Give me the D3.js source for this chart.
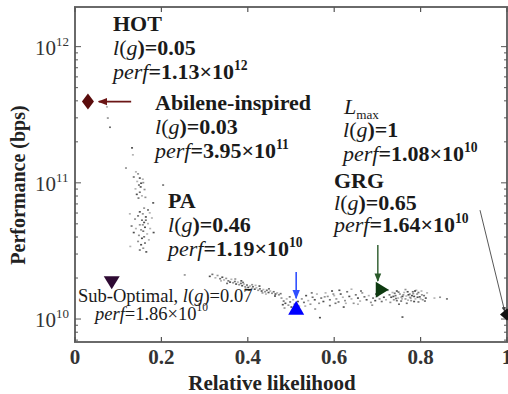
<!DOCTYPE html>
<html>
<head>
<meta charset="utf-8">
<script src="https://cdn.jsdelivr.net/npm/d3@7"></script>
<style>
  body { margin: 0; background: #fff; }
  svg { display: block; }
</style>
</head>
<body>
<svg id="chart" width="508" height="394" font-family="'Liberation Serif', 'Times New Roman', Times, serif"></svg>
<script>
// axis ticks (performance in units of 1e10 bps)
const xTicks = [0, 0.2, 0.4, 0.6, 0.8, 1];
const xTickLabels = ["0", "0.2", "0.4", "0.6", "0.8", "1"];
const yTicks = [1, 10, 100];
const yTickExps = ["10", "11", "12"];

// random-graph cloud, [likelihood, perf / 1e10]
const cloud = [
  [0.074,36],[0.076,29.8],[0.081,25.5],[0.132,18.0],[0.134,16.0],[0.118,12.8],[0.204,9.6],[0.181,7.1],
  [0.141,12.0],[0.146,11.6],[0.136,11.0],[0.150,10.8],[0.144,10.2],[0.158,10.0],[0.148,9.6],[0.152,9.3],
  [0.140,9.0],[0.161,8.9],[0.150,8.5],[0.143,8.2],[0.155,8.0],[0.163,7.8],[0.147,7.7],[0.153,9.9],[0.157,10.6],
  [0.160,6.5],[0.169,6.3],[0.150,6.1],[0.173,6.0],[0.157,5.9],[0.146,5.7],[0.164,5.6],[0.178,5.5],[0.139,5.4],
  [0.155,5.3],[0.160,5.1],[0.169,5.0],[0.150,4.9],[0.131,4.8],[0.162,4.7],[0.174,4.6],[0.153,4.5],[0.158,4.4],
  [0.136,4.3],[0.167,4.2],[0.148,4.1],[0.160,4.0],[0.155,3.9],[0.171,3.8],[0.146,3.7],[0.162,3.6],[0.153,3.5],
  [0.128,3.4],[0.158,3.3],[0.150,3.2],[0.165,3.1],[0.141,4.6],[0.157,4.9],[0.164,5.3],[0.182,4.3],[0.127,5.9],
  [0.254,2.10],[0.318,2.12],[0.312,2.05],[0.325,2.00],[0.330,2.08],[0.336,1.97],[0.341,2.02],[0.345,1.93],
  [0.350,1.98],[0.355,1.90],[0.359,1.86],[0.362,1.95],[0.366,1.84],[0.370,1.88],[0.373,1.80],[0.377,1.86],
  [0.380,1.78],[0.384,1.82],[0.387,1.75],[0.391,1.80],[0.394,1.72],[0.398,1.77],[0.401,1.70],[0.405,1.74],
  [0.409,1.67],[0.412,1.72],[0.416,1.65],[0.420,1.69],[0.424,1.62],[0.428,1.66],[0.432,1.60],[0.436,1.64],
  [0.440,1.58],[0.444,1.62],[0.448,1.56],[0.452,1.60],[0.456,1.54],[0.460,1.58],[0.464,1.52],[0.468,1.55],
  [0.472,1.50],[0.476,1.53],[0.385,1.90],[0.395,1.68],[0.410,1.78],[0.352,1.82],[0.427,1.74],[0.442,1.52],
  [0.371,1.96],[0.389,1.85],[0.403,1.63],[0.418,1.76],[0.434,1.55],[0.449,1.66],[0.463,1.47],[0.338,1.90],
  [0.478,1.42],[0.483,1.35],[0.487,1.30],[0.490,1.40],[0.494,1.26],[0.498,1.33],[0.501,1.22],[0.505,1.38],
  [0.508,1.28],[0.512,1.18],[0.516,1.34],[0.519,1.24],[0.485,1.20],[0.497,1.45],[0.481,1.27],[0.503,1.15],
  [0.525,1.40],[0.530,1.32],[0.535,1.48],[0.540,1.36],[0.545,1.28],[0.550,1.44],[0.555,1.38],[0.560,1.52],
  [0.565,1.30],[0.570,1.42],[0.575,1.34],[0.580,1.55],[0.585,1.46],[0.590,1.38],[0.595,1.60],[0.600,1.48],
  [0.605,1.40],[0.610,1.33],[0.615,1.52],[0.620,1.44],[0.625,1.36],[0.630,1.58],[0.635,1.46],[0.640,1.40],
  [0.645,1.30],[0.650,1.50],[0.655,1.42],[0.660,1.35],[0.665,1.55],[0.670,1.45],[0.675,1.38],[0.680,1.48],
  [0.685,1.32],[0.690,1.42],[0.695,1.36],[0.700,1.46],[0.705,1.40],[0.710,1.34],[0.715,1.44],[0.720,1.38],
  [0.556,1.18],[0.590,1.25],[0.622,1.22],[0.655,1.28],[0.688,1.26],[0.548,1.55],[0.612,1.62],[0.640,1.65],
  [0.578,1.45],[0.603,1.30],[0.567,1.02],[0.533,1.24],[0.598,1.52],[0.662,1.60],[0.697,1.52],[0.627,1.30],
  [0.724,1.62],[0.728,1.50],[0.732,1.44],[0.735,1.56],[0.738,1.38],[0.742,1.48],[0.745,1.60],[0.748,1.42],
  [0.752,1.52],[0.755,1.35],[0.758,1.46],[0.762,1.56],[0.765,1.40],[0.768,1.30],[0.772,1.50],[0.775,1.44],
  [0.778,1.36],[0.782,1.58],[0.785,1.46],[0.788,1.40],[0.792,1.52],[0.795,1.33],[0.798,1.45],[0.802,1.60],
  [0.805,1.38],[0.808,1.48],[0.812,1.42],[0.815,1.55],[0.730,1.32],[0.750,1.28],[0.770,1.58],[0.790,1.62],
  [0.760,1.50],[0.740,1.54],[0.780,1.48],[0.800,1.40],[0.765,1.64],[0.745,1.36],[0.785,1.34],[0.755,1.44],
  [0.775,1.52],[0.795,1.56],[0.737,1.46],[0.757,1.40],[0.777,1.42],[0.810,1.35],[0.758,1.03],
  [0.767,1.47],[0.783,1.53],[0.749,1.57],[0.793,1.44],[0.771,1.37],[0.803,1.50],[0.743,1.41],[0.787,1.60],
  [0.832,1.42],[0.845,1.44],[0.861,1.40]
];

// highlighted graphs
const markerNames = ["Abilene", "SubOptimal", "PA", "GRG", "Lmax"];
const markerL = [0.03, 0.085, 0.512, 0.71, 1];
const markerPerf = [39.5, 1.86, 1.19, 1.64, 1.08];

const svg = d3.select("#chart");
const x = d3.scaleLinear().domain([0, 1]).range([75, 507]);
const y = d3.scaleLog().domain([0.678, 195.5]).range([342, 7]);

// frame
svg.append("rect")
  .attr("x", x(0)).attr("y", y(195.5))
  .attr("width", x(1) - x(0)).attr("height", y(0.678) - y(195.5))
  .attr("fill", "none").attr("stroke", "#6a6a6a").attr("stroke-width", 2);

// x ticks, top and bottom, pointing in
xTicks.forEach(t => {
  svg.append("line").attr("x1", x(t)).attr("x2", x(t)).attr("y1", 342).attr("y2", 337)
    .attr("stroke", "#555").attr("stroke-width", 1.2);
  svg.append("line").attr("x1", x(t)).attr("x2", x(t)).attr("y1", 7).attr("y2", 12)
    .attr("stroke", "#555").attr("stroke-width", 1.2);
});
svg.selectAll(".xlab").data(xTicks).join("text")
  .attr("x", d => x(d)).attr("y", 364)
  .attr("text-anchor", "middle").attr("font-size", 21).attr("font-weight", "bold")
  .attr("fill", "#333")
  .text((d, i) => xTickLabels[i]);

// y ticks (log, with minor ticks)
const minor = [];
[0.1, 1, 10, 100].forEach(dec => {
  for (let k = 1; k <= 9; k++) {
    const v = dec * k;
    if (v >= 0.678 && v <= 195.5) minor.push(v);
  }
});
minor.forEach(v => {
  const len = yTicks.includes(v) ? 6 : 3;
  svg.append("line").attr("x1", 75).attr("x2", 75 + len).attr("y1", y(v)).attr("y2", y(v))
    .attr("stroke", "#555").attr("stroke-width", 1);
  svg.append("line").attr("x1", 507).attr("x2", 507 - len).attr("y1", y(v)).attr("y2", y(v))
    .attr("stroke", "#555").attr("stroke-width", 1);
});
yTicks.forEach((t, i) => {
  const tx = svg.append("text").attr("x", 35).attr("y", y(t) + 8).attr("font-size", 21).attr("fill", "#333");
  tx.append("tspan").text("10");
  tx.append("tspan").attr("dy", -9).attr("font-size", 13).text(yTickExps[i]);
});

// axis titles
svg.append("text").attr("x", 272).attr("y", 390)
  .attr("text-anchor", "middle").attr("font-size", 21).attr("font-weight", "bold").attr("fill", "#222")
  .text("Relative likelihood");
svg.append("text").attr("transform", "translate(25,185) rotate(-90)")
  .attr("text-anchor", "middle").attr("font-size", 20).attr("font-weight", "bold").attr("fill", "#222")
  .text("Performance (bps)");

// cloud
svg.append("g").selectAll("rect").data(cloud).join("rect")
  .attr("x", d => x(d[0]) - 1).attr("y", d => y(d[1]) - 1)
  .attr("width", 2).attr("height", 1.6)
  .attr("fill", "#222").attr("opacity", (d, i) => 0.35 + (i % 4) * 0.15);

// arrows
const defs = svg.append("defs");
function arrowHead(id, color) {
  defs.append("marker").attr("id", id).attr("viewBox", "0 0 10 10")
    .attr("refX", 9).attr("refY", 5).attr("markerWidth", 6).attr("markerHeight", 6)
    .attr("orient", "auto-start-reverse")
    .append("path").attr("d", "M0,1 L10,5 L0,9 Z").attr("fill", color);
}
arrowHead("ahRed", "#6b1515");
arrowHead("ahBlue", "#3050ff");
arrowHead("ahGreen", "#2a5a2a");
arrowHead("ahGray", "#444");
const arrows = [
  { from: [0.13, 39.5], to: [0.055, 39.5], color: "#6b1515", head: "ahRed", w: 1.6 },
  { from: [0.512, 2.21], to: [0.512, 1.42], color: "#3050ff", head: "ahBlue", w: 1.6 },
  { from: [0.701, 3.49], to: [0.701, 1.90], color: "#2a5a2a", head: "ahGreen", w: 1.4 },
  { from: [0.9375, 6.3], to: [0.995, 1.13], color: "#444", head: "ahGray", w: 0.9 }
];
arrows.forEach(a => {
  svg.append("line")
    .attr("x1", x(a.from[0])).attr("y1", y(a.from[1]))
    .attr("x2", x(a.to[0])).attr("y2", y(a.to[1]))
    .attr("stroke", a.color).attr("stroke-width", a.w)
    .attr("marker-end", `url(#${a.head})`);
});

// marker shapes
const shapes = {
  Abilene: { d: "M0,-8 L6,0 L0,8 L-6,0 Z", fill: "#5a0c0c" },
  SubOptimal: { d: "M-8,-6 L8,-6 L0,7 Z", fill: "#2e0a33" },
  PA: { d: "M0,-8 L8,6 L-8,6 Z", fill: "#0000ff" },
  GRG: { d: "M-6,-8 L7,0 L-6,8 Z", fill: "#0d3a10" },
  Lmax: { d: "M-7,0 L0,-6 L7,0 L0,6 Z", fill: "#111" }
};
markerNames.forEach((n, i) => {
  svg.append("path")
    .attr("transform", `translate(${x(markerL[i])},${y(markerPerf[i])})`)
    .attr("d", shapes[n].d).attr("fill", shapes[n].fill);
});

// annotation labels
function label(xp, yp, parts, size) {
  const t = svg.append("text").attr("x", xp).attr("y", yp).attr("font-size", size).attr("fill", "#1a1a1a");
  parts.forEach(p => {
    const s = t.append("tspan").text(p.t);
    if (p.i) s.attr("font-style", "italic");
    if (p.b) s.attr("font-weight", "bold");
    if (p.sup) s.attr("dy", -9).attr("font-size", size * 0.62);
    if (p.sub) s.attr("dy", 5).attr("font-size", size * 0.6);
  });
  return t;
}
const lg = v => [{ t: "l", i: true }, { t: "(" }, { t: "g", i: true }, { t: ")=" + v, b: true }];
const pf = (m, e) => [{ t: "perf", i: true }, { t: "=" + m + "×10", b: true }, { t: e, b: true, sup: true }];

label(113, 31, [{ t: "HOT", b: true }], 22);
label(113, 55, lg("0.05"), 22);
label(113, 79, pf("1.13", "12"), 22);

label(155, 110, [{ t: "Abilene-inspired", b: true }], 22);
label(155, 134, lg("0.03"), 22);
label(155, 158, pf("3.95", "11"), 22);

label(168, 208, [{ t: "PA", b: true }], 22);
label(168, 232, lg("0.46"), 22);
label(168, 256, pf("1.19", "10"), 22);

label(334, 188, [{ t: "GRG", b: true }], 22);
label(334, 210, lg("0.65"), 22);
label(334, 232, pf("1.64", "10"), 22);

label(344, 114, [{ t: "L", i: true }, { t: "max", sub: true }], 22);
label(343, 137, lg("1"), 22);
label(343, 161, pf("1.08", "10"), 22);

label(78, 302, [{ t: "Sub-Optimal, " }, { t: "l", i: true }, { t: "(" }, { t: "g", i: true }, { t: ")=0.07" }], 18.5);
label(95, 320, [{ t: "perf", i: true }, { t: "=1.86×10" }, { t: "10", sup: true }], 18.5);
</script>
</body>
</html>
